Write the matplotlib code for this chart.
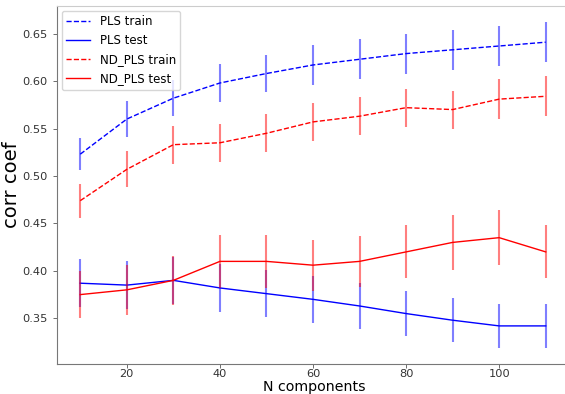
import numpy as np
import matplotlib.pyplot as plt

n_comp = [10, 20, 30, 40, 50, 60, 70, 80, 90, 100, 110]

pls_train = [0.523, 0.560, 0.582, 0.598, 0.608, 0.617, 0.623, 0.629, 0.633, 0.637, 0.641]
pls_train_err = [0.017, 0.019, 0.019, 0.020, 0.020, 0.021, 0.021, 0.021, 0.021, 0.021, 0.021]
pls_test = [0.387, 0.385, 0.390, 0.382, 0.376, 0.370, 0.363, 0.355, 0.348, 0.342, 0.342]
pls_test_err = [0.025, 0.025, 0.025, 0.025, 0.025, 0.025, 0.024, 0.024, 0.023, 0.023, 0.023]

nd_train = [0.474, 0.507, 0.533, 0.535, 0.545, 0.557, 0.563, 0.572, 0.570, 0.581, 0.584]
nd_train_err = [0.018, 0.019, 0.020, 0.020, 0.020, 0.020, 0.020, 0.020, 0.020, 0.021, 0.021]
nd_test = [0.375, 0.380, 0.390, 0.410, 0.410, 0.406, 0.410, 0.420, 0.430, 0.435, 0.420]
nd_test_err = [0.025, 0.026, 0.026, 0.028, 0.028, 0.027, 0.027, 0.028, 0.029, 0.029, 0.028]

fig = plt.figure(figsize=(5.65, 3.94), dpi=100)
ax = fig.add_axes([57 / 565, 30 / 394, 512 / 565, 358 / 394])

ax.plot(n_comp, pls_train, 'b--', lw=1, label='PLS train')
ax.errorbar(n_comp, pls_train, yerr=pls_train_err, fmt='none', ecolor='b', alpha=0.5)
ax.plot(n_comp, pls_test, 'b-', lw=1, label='PLS test')
ax.errorbar(n_comp, pls_test, yerr=pls_test_err, fmt='none', ecolor='b', alpha=0.5)
ax.plot(n_comp, nd_train, 'r--', lw=1, label='ND_PLS train')
ax.errorbar(n_comp, nd_train, yerr=nd_train_err, fmt='none', ecolor='r', alpha=0.5)
ax.plot(n_comp, nd_test, 'r-', lw=1, label='ND_PLS test')
ax.errorbar(n_comp, nd_test, yerr=nd_test_err, fmt='none', ecolor='r', alpha=0.5)

ax.set_xticks([20, 40, 60, 80, 100])
ax.set_yticks([0.35, 0.40, 0.45, 0.50, 0.55, 0.60, 0.65])
ax.set_yticklabels(['0.35', '0.40', '0.45', '0.50', '0.55', '0.60', '0.65'])
ax.tick_params(labelsize=8.2, colors='#555555', labelcolor='#333333', length=3, width=0.6)
ax.tick_params(axis='x', pad=0.5)
ax.tick_params(axis='y', pad=3.5)

for side in ['left', 'bottom']:
    ax.spines[side].set_color('#777777')
    ax.spines[side].set_linewidth(0.8)
ax.spines['top'].set_color('#cccccc')
ax.spines['right'].set_color('#cccccc')

ax.set_xlabel('N components', fontsize=10.2)
ax.xaxis.set_label_coords(0.502, -0.044)
ax.set_ylabel('corr coef', fontsize=14)
ax.yaxis.set_label_coords(-0.07, 0.5)

ax.legend(loc='upper left', fontsize=8.5, framealpha=0.8, borderaxespad=0.4)

fig.savefig('out.png')
